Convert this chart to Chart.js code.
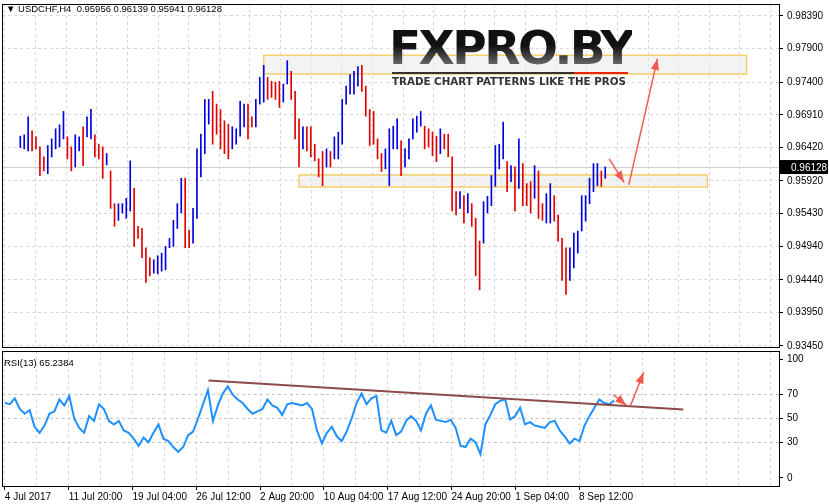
<!DOCTYPE html>
<html>
<head>
<meta charset="utf-8">
<script src="https://cdn.jsdelivr.net/npm/chart.js@4.4.1/dist/chart.umd.min.js"></script>
<style>
  body { margin: 0; background: #fff; width: 829px; height: 504px; overflow: hidden; position: relative; font-family: "Liberation Sans", Arial, sans-serif; }
  #main { position: absolute; left: 0; top: 0; }
  #rsi { position: absolute; left: 0; top: 350px; }
  .hdr { position: absolute; left: 6px; top: 3px; font-size: 9.5px; color: #000; }
  .hdr2 { position: absolute; left: 4px; top: 357px; font-size: 9.5px; color: #000; }
  .logo { position: absolute; left: 389px; top: 24px; font: bold 47px "DejaVu Sans", sans-serif; letter-spacing: -2.5px;
          background: linear-gradient(#111 45%, #888); -webkit-background-clip: text; color: transparent; line-height: 48px; }
  .logoline { position: absolute; left: 392px; top: 72px; width: 236px; height: 2px; background: linear-gradient(90deg, #333 77%, #e21 77%); }
  .slogan { position: absolute; left: 392px; top: 75px; font: bold 10.3px "DejaVu Sans", sans-serif; color: #333; }
</style>
</head>
<body>
<canvas id="main" width="829" height="350"></canvas>
<canvas id="rsi" width="829" height="154"></canvas>
<div class="hdr">&#9660; USDCHF,H4&nbsp; 0.95956 0.96139 0.95941 0.96128</div>
<div class="hdr2">RSI(13) 65.2384</div>
<div class="logo">FXPRO.BY</div>
<div class="logoline"></div>
<div class="slogan">TRADE CHART PATTERNS LIKE THE PROS</div>
<script>
// H4 bars (about two candles per entry)
const highs = [
  .9659, .9661, .9688, .9667, .9658, .9643, .9628, .9645, .9655, .9670,
  .9676, .9696, .9658, .9643, .9661, .9658, .9673, .9688, .9699, .9661,
  .9647, .9643, .9633, .9607, .9558, .9558, .9558, .9566, .9622, .9581,
  .9524, .9521, .9492, .9477, .9474, .9480, .9484, .9494, .9506, .9533,
  .9558, .9596, .9596, .9518, .9551, .9640, .9662, .9714, .9714, .9726,
  .9707, .9699, .9682, .9677, .9673, .9670, .9711, .9707, .9707, .9688,
  .9714, .9747, .9765, .9747, .9741, .9740, .9741, .9737, .9772, .9756,
  .9726, .9685, .9673, .9673, .9673, .9647, .9625, .9636, .9640, .9636,
  .9658, .9665, .9714, .9734, .9751, .9756, .9763, .9765, .9734, .9699,
  .9696, .9655, .9633, .9640, .9670, .9674, .9685, .9652, .9640, .9655,
  .9685, .9689, .9696, .9674, .9670, .9665, .9659, .9670, .9662, .9662,
  .9628, .9576, .9576, .9570, .9573, .9558, .9536, .9502, .9561, .9569,
  .9600, .9645, .9647, .9680, .9621, .9615, .9613, .9655, .9618, .9588,
  .9591, .9615, .9607, .9558, .9573, .9588, .9570, .9541, .9506, .9492,
  .9492, .9514, .9517, .9570, .9570, .9596, .9618, .9618, .9607, .9613
];
const lows = [
  .9642, .9640, .9637, .9637, .9640, .9600, .9607, .9603, .9628, .9640,
  .9643, .9655, .9625, .9607, .9613, .9637, .9615, .9658, .9655, .9628,
  .9625, .9596, .9616, .9551, .9524, .9533, .9544, .9536, .9547, .9494,
  .9506, .9477, .9440, .9450, .9454, .9453, .9457, .9459, .9492, .9494,
  .9521, .9544, .9492, .9492, .9499, .9536, .9598, .9633, .9677, .9647,
  .9662, .9640, .9633, .9625, .9640, .9647, .9659, .9673, .9655, .9673,
  .9673, .9707, .9710, .9714, .9717, .9714, .9702, .9710, .9737, .9714,
  .9655, .9613, .9640, .9637, .9628, .9622, .9598, .9585, .9613, .9613,
  .9625, .9625, .9647, .9707, .9722, .9722, .9734, .9726, .9689, .9645,
  .9647, .9625, .9606, .9610, .9585, .9640, .9640, .9600, .9613, .9625,
  .9655, .9665, .9674, .9640, .9643, .9630, .9621, .9633, .9640, .9628,
  .9547, .9541, .9551, .9529, .9544, .9524, .9450, .9429, .9499, .9544,
  .9555, .9584, .9610, .9625, .9576, .9591, .9547, .9581, .9555, .9555,
  .9544, .9566, .9536, .9533, .9529, .9529, .9532, .9502, .9443, .9422,
  .9443, .9462, .9484, .9517, .9532, .9558, .9576, .9585, .9584, .9596
];
const lastPrice = 0.96128;
const priceTicks = [0.98390, 0.97900, 0.97400, 0.96910, 0.96420, 0.95920, 0.95430, 0.94940, 0.94440, 0.93950, 0.93450];

const rsi = [
  63, 62, 67, 58, 54, 57, 43, 38, 44, 54, 56, 66, 61, 69, 50, 42, 38, 52, 48, 62,
  58, 48, 45, 48, 40, 38, 33, 27, 34, 30, 38, 45, 33, 31, 26, 22, 26, 36, 39, 50,
  62, 74, 48, 61, 71, 77, 70, 66, 63, 58, 54, 56, 58, 66, 61, 59, 53, 62, 63, 62,
  61, 63, 58, 40, 29, 38, 43, 35, 31, 39, 50, 63, 71, 62, 67, 69, 40, 38, 48, 36,
  39, 48, 52, 48, 40, 54, 61, 49, 48, 47, 49, 42, 27, 26, 33, 30, 20, 45, 53, 62,
  65, 66, 49, 52, 59, 45, 47, 44, 43, 42, 47, 48, 40, 35, 29, 33, 31, 44, 52, 59,
  66, 63, 62, 65
];
const rsiTicks = [100, 70, 50, 30, 0];

const dateLabels = ["4 Jul 2017", "11 Jul 20:00", "19 Jul 04:00", "26 Jul 12:00", "2 Aug 20:00",
  "10 Aug 04:00", "17 Aug 12:00", "24 Aug 20:00", "1 Sep 04:00", "8 Sep 12:00"];

const GRID_STEP = 7.8;   // bars between vertical grid lines
const X_MAX = 189.3;
const FONT = { family: "Liberation Sans", size: 10 };

const bars = highs.map((h, i) => [lows[i], h]);
const mids = highs.map((h, i) => (h + lows[i]) / 2);
const barColors = mids.map((m, i) => (i === 0 || m >= mids[i - 1]) ? "#0000e0" : "#e00000");
const rsiPts = rsi.map((v, j) => ({ x: j * (highs.length - 1) / (rsi.length - 1), y: v }));

function gridTicks(scale) {
  const t = [];
  for (let g = 0; g * GRID_STEP <= X_MAX; g++) t.push({ value: g * GRID_STEP });
  scale.ticks = t;
}
function noPad(s) { s.width = 50; s.paddingTop = 0; s.paddingBottom = 0; }

function arrow(ctx, x1, y1, x2, y2) {
  const a = Math.atan2(y2 - y1, x2 - x1);
  ctx.beginPath(); ctx.moveTo(x1, y1); ctx.lineTo(x2, y2); ctx.stroke();
  ctx.beginPath();
  ctx.moveTo(x2, y2);
  ctx.lineTo(x2 - 12 * Math.cos(a - 0.35), y2 - 12 * Math.sin(a - 0.35));
  ctx.lineTo(x2 - 12 * Math.cos(a + 0.35), y2 - 12 * Math.sin(a + 0.35));
  ctx.closePath(); ctx.fill();
}

const frame = {
  id: "frame",
  afterDraw(chart) {
    const { ctx, chartArea: a } = chart;
    ctx.save();
    ctx.strokeStyle = "#000"; ctx.lineWidth = 1;
    ctx.strokeRect(a.left + 0.5, a.top + 0.5, a.right - a.left, a.bottom - a.top);
    ctx.restore();
  }
};

const mainDecor = {
  id: "mainDecor",
  beforeDatasetsDraw(chart) {
    const { ctx, scales: { x, y } } = chart;
    ctx.save();
    // resistance / support zones
    const zones = [[62, 185, 0.9780, 0.9752], [71, 175, 0.9601, 0.9583]];
    zones.forEach(([i1, i2, p1, p2]) => {
      const l = x.getPixelForValue(i1), r = x.getPixelForValue(i2);
      const t = y.getPixelForValue(p1), b = y.getPixelForValue(p2);
      ctx.fillStyle = "rgba(235,235,235,0.6)"; ctx.fillRect(l, t, r - l, b - t);
      ctx.strokeStyle = "#f5cf6a"; ctx.lineWidth = 1.5; ctx.strokeRect(l, t, r - l, b - t);
    });
    // current price line
    const py = Math.round(y.getPixelForValue(lastPrice)) + 0.5;
    ctx.strokeStyle = "#d0d0d0"; ctx.lineWidth = 1;
    ctx.beginPath(); ctx.moveTo(chart.chartArea.left, py); ctx.lineTo(chart.chartArea.right, py); ctx.stroke();
    ctx.restore();
  },
  afterDraw(chart) {
    const { ctx, scales: { x, y } } = chart;
    ctx.save();
    ctx.strokeStyle = "#f25a50"; ctx.fillStyle = "#f25a50"; ctx.lineWidth = 1.5;
    arrow(ctx, x.getPixelForValue(150), y.getPixelForValue(0.9625), x.getPixelForValue(153.8), y.getPixelForValue(0.9590));
    arrow(ctx, x.getPixelForValue(155), y.getPixelForValue(0.9586), x.getPixelForValue(162.3), y.getPixelForValue(0.9775));
    const py = y.getPixelForValue(lastPrice);
    ctx.fillStyle = "#000"; ctx.fillRect(chart.chartArea.right + 1, py - 7, 48, 14);
    ctx.fillStyle = "#fff"; ctx.font = "10px Liberation Sans"; ctx.textBaseline = "middle";
    ctx.fillText(lastPrice.toFixed(5), chart.chartArea.right + 12, py + 1);
    ctx.restore();
  }
};

const rsiDecor = {
  id: "rsiDecor",
  afterDatasetsDraw(chart) {
    const { ctx, scales: { x, y } } = chart;
    ctx.save();
    ctx.strokeStyle = "#8c4a4a"; ctx.lineWidth = 2;
    ctx.beginPath();
    ctx.moveTo(x.getPixelForValue(49.8), y.getPixelForValue(82));
    ctx.lineTo(x.getPixelForValue(165.9), y.getPixelForValue(57.5));
    ctx.stroke();
    ctx.strokeStyle = "#f25a50"; ctx.fillStyle = "#f25a50"; ctx.lineWidth = 1.5;
    arrow(ctx, x.getPixelForValue(148.8), y.getPixelForValue(70), x.getPixelForValue(152), y.getPixelForValue(61));
    arrow(ctx, x.getPixelForValue(153), y.getPixelForValue(61), x.getPixelForValue(156.2), y.getPixelForValue(89));
    ctx.restore();
  }
};

const dash = { display: false, dash: [3, 3] };

new Chart(document.getElementById("main"), {
  type: "bar",
  data: {
    datasets: [{
      data: bars.map((b, i) => ({ x: i, y: b })),
      backgroundColor: barColors,
      barThickness: 1,
      grouped: false
    }]
  },
  options: {
    responsive: false, animation: false,
    layout: { padding: { top: 4, bottom: 3, left: 2, right: 0 } },
    plugins: { legend: { display: false }, tooltip: { enabled: false } },
    scales: {
      x: {
        type: "linear", min: -0.7, max: X_MAX,
        afterBuildTicks: gridTicks,
        afterFit: s => { s.height = 0; s.paddingLeft = 0; s.paddingRight = 0; },
        ticks: { display: false },
        grid: { color: "#d8d8d8", drawTicks: false },
        border: dash
      },
      y: {
        position: "right", min: 0.93435, max: 0.98568,
        afterBuildTicks: s => { s.ticks = priceTicks.map(v => ({ value: v })); },
        afterFit: noPad,
        ticks: { color: "#000", font: FONT, padding: 4, callback: v => v.toFixed(5) },
        grid: { color: "#d8d8d8", tickLength: 4, tickColor: "#000", tickBorderDash: [] },
        border: dash
      }
    }
  },
  plugins: [mainDecor, frame]
});

new Chart(document.getElementById("rsi"), {
  type: "line",
  data: {
    datasets: [{
      data: rsiPts,
      borderColor: "#1e90ff", borderWidth: 2, pointRadius: 0, tension: 0
    }]
  },
  options: {
    responsive: false, animation: false,
    layout: { padding: { top: 1, bottom: 0, left: 2, right: 0 } },
    plugins: { legend: { display: false }, tooltip: { enabled: false } },
    scales: {
      x: {
        type: "linear", min: -0.7, max: X_MAX,
        afterBuildTicks: gridTicks,
        afterFit: s => { s.height = 18; s.paddingLeft = 0; s.paddingRight = 0; },
        ticks: {
          color: "#000", font: FONT, autoSkip: false, maxRotation: 0, align: "start", padding: 1,
          callback: (v, i) => (i % 2 === 0 && i / 2 < dateLabels.length) ? dateLabels[i / 2] : ""
        },
        grid: { color: "#d8d8d8", tickLength: 4, tickColor: ctx => (ctx.index % 2 === 0 && ctx.index / 2 < dateLabels.length) ? "#000" : "rgba(0,0,0,0)", tickBorderDash: [] },
        border: dash
      },
      y: {
        position: "right", min: -6.8, max: 106.8,
        afterBuildTicks: s => { s.ticks = rsiTicks.map(v => ({ value: v })); },
        afterFit: noPad,
        ticks: { color: "#000", font: FONT, padding: 4 },
        grid: { color: c => (c.tick && (c.tick.value === 0 || c.tick.value === 100)) ? "rgba(0,0,0,0)" : "#c8c8c8", tickLength: 4, tickColor: "#000", tickBorderDash: [] },
        border: dash
      }
    }
  },
  plugins: [rsiDecor, frame]
});
</script>
</body>
</html>
